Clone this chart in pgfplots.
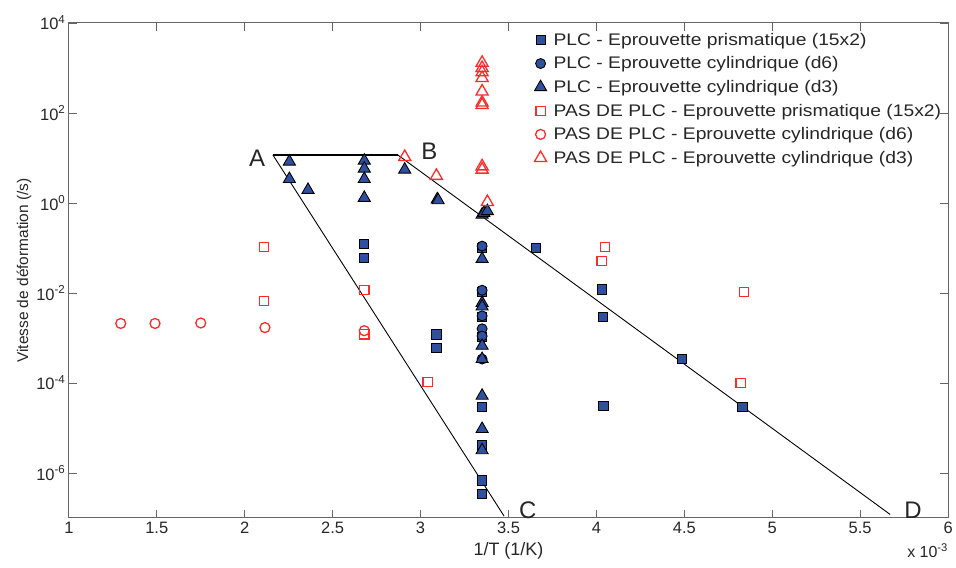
\documentclass[border=0pt]{standalone}
\usepackage{fontspec}
\setmainfont{Liberation Sans}
\newfontfamily\legfont[FakeStretch=1.15]{Liberation Sans}
\usepackage{pgfplots}
\pgfplotsset{compat=1.18}
\definecolor{plcblue}{HTML}{2F4F9F}
\definecolor{pasred}{HTML}{FF2A2A}

\begin{document}
\begin{tikzpicture}
\begin{axis}[
  at={(0,0)}, anchor=south west,
  scale only axis,
  width=881pt, height=496pt,
  xmin=1, xmax=6,
  ymode=log, ymin=1e-7, ymax=1e4,
  xtick={1,1.5,2,2.5,3,3.5,4,4.5,5,5.5,6},
  xticklabels={1,1.5,2,2.5,3,3.5,4,4.5,5,5.5,6},
  ytick={1e-6,1e-4,1e-2,1,1e2,1e4},
  yticklabels={10\textsuperscript{-6},10\textsuperscript{-4},10\textsuperscript{-2},10\textsuperscript{0},10\textsuperscript{2},10\textsuperscript{4}},
  yminorticks=false,
  tick align=inside,
  major tick length=8pt,
  axis line style={draw=black!60, line width=1pt},
  tick style={draw=black!60, line width=0.8pt},
  tick label style={font=\fontsize{16.5}{18}\selectfont, text=black!85},
  xticklabel style={yshift=-1pt},
  xlabel={1/T (1/K)},
  ylabel={Vitesse de déformation (/s)},
  xlabel style={font=\fontsize{18}{20}\selectfont, text=black!85, yshift=-1pt},
  ylabel style={font=\fontsize{15.5}{17}\selectfont, text=black!85, yshift=-2pt},
  legend style={at={(rel axis cs:0.526,0.988)}, anchor=north west, draw=none, fill=none,
    font=\legfont\fontsize{16.8}{18}\selectfont, row sep=6pt, text=black!85},
  legend cell align=left,
  clip=false,
]
% PLC - prismatique
\addplot[only marks, mark=square*, mark size=4.6pt, mark options={fill=plcblue, draw=black, line width=0.9pt}]
coordinates {(2.68,0.123) (2.68,0.06) (3.09,1.2e-3) (3.09,6e-4)
 (3.35,0.1) (3.35,0.0107) (3.35,2.9e-3) (3.35,1.05e-3) (3.35,2.9e-5) (3.35,4.1e-6) (3.35,6.8e-7) (3.35,3.4e-7)
 (3.656,0.1) (4.03,0.012) (4.035,2.9e-3) (4.04,3.1e-5) (4.485,3.4e-4) (4.83,2.9e-5)};
% PLC - cylindrique d6
\addplot[only marks, mark=*, mark size=5pt, mark options={fill=plcblue, draw=black, line width=0.9pt}]
coordinates {(3.35,0.11) (3.35,0.0115) (3.35,3.1e-3) (3.35,1.6e-3) (3.35,1.1e-3) (3.35,3.4e-4)};
% PLC - cylindrique d3
\addplot[only marks, mark=triangle*, mark size=7pt, mark options={fill=plcblue, draw=black, line width=0.9pt}]
coordinates {(2.254,8.3) (2.254,3.4) (2.36,1.95) (2.68,8.7) (2.68,5.8) (2.68,3.4) (2.68,1.3)
 (2.91,5.5) (3.095,1.2) (3.10,1.15) (3.35,0.55) (3.36,0.6) (3.38,0.66) (3.35,0.057)
 (3.35,6e-3) (3.35,5e-3) (3.35,6.7e-4) (3.35,3.4e-4) (3.35,5.2e-5) (3.35,9.5e-6) (3.35,3.2e-6)};
% PAS DE PLC - prismatique
\addplot[only marks, mark=square, mark size=4.6pt, mark options={draw=pasred, line width=1.3pt}]
coordinates {(2.11,0.105) (2.11,6.7e-3) (2.68,0.0116) (2.68,1.2e-3) (3.04,1.05e-4)
 (4.05,0.105) (4.03,0.051) (4.84,0.0105) (4.82,1e-4)};
% PAS DE PLC - cylindrique d6
\addplot[only marks, mark=o, mark size=5pt, mark options={draw=pasred, line width=1.3pt}]
coordinates {(1.295,2.1e-3) (1.49,2.1e-3) (1.75,2.15e-3) (2.115,1.7e-3) (2.68,1.45e-3)};
% PAS DE PLC - cylindrique d3
\addplot[only marks, mark=triangle, mark size=7pt, mark options={draw=pasred, line width=1.3pt}]
coordinates {(2.91,10.5) (3.09,4.0) (3.38,1.05) (3.35,6.5) (3.35,5.5) (3.35,170) (3.35,150)
 (3.35,300) (3.35,600) (3.35,800) (3.35,1000) (3.35,1300)};
\legend{\hspace{5pt}PLC - Eprouvette prismatique (15x2),\hspace{5pt}PLC - Eprouvette cylindrique (d6),\hspace{5pt}PLC - Eprouvette cylindrique (d3),\hspace{5pt}PAS DE PLC - Eprouvette prismatique (15x2),\hspace{5pt}PAS DE PLC - Eprouvette cylindrique (d6),\hspace{5pt}PAS DE PLC - Eprouvette cylindrique (d3)}
% boundary lines
\addplot[black, line width=1.6pt, forget plot] coordinates {(2.16,11.7) (2.87,11.7)};
\addplot[black, line width=0.9pt, forget plot] coordinates {(3.475,1.1e-7) (2.16,11.7)};
\addplot[black, line width=0.9pt, forget plot] coordinates {(2.87,11.7) (5.67,1.2e-7)};
\node[font=\fontsize{24}{26}\selectfont, text=black!85] at (axis cs:2.07,10) {A};
\node[font=\fontsize{24}{26}\selectfont, text=black!85] at (axis cs:3.05,14) {B};
\node[font=\fontsize{24}{26}\selectfont, text=black!85] at (axis cs:3.61,1.45e-7) {C};
\node[font=\fontsize{24}{26}\selectfont, text=black!85] at (axis cs:5.80,1.45e-7) {D};
\node[font=\fontsize{16}{18}\selectfont, text=black!85, anchor=north east, inner sep=0pt] at (rel axis cs:1.0,-0.052) {x 10\textsuperscript{-3}};
\end{axis}
\path[use as bounding box] (-69pt,-50pt) rectangle (887pt,519pt);
\end{tikzpicture}
\end{document}
